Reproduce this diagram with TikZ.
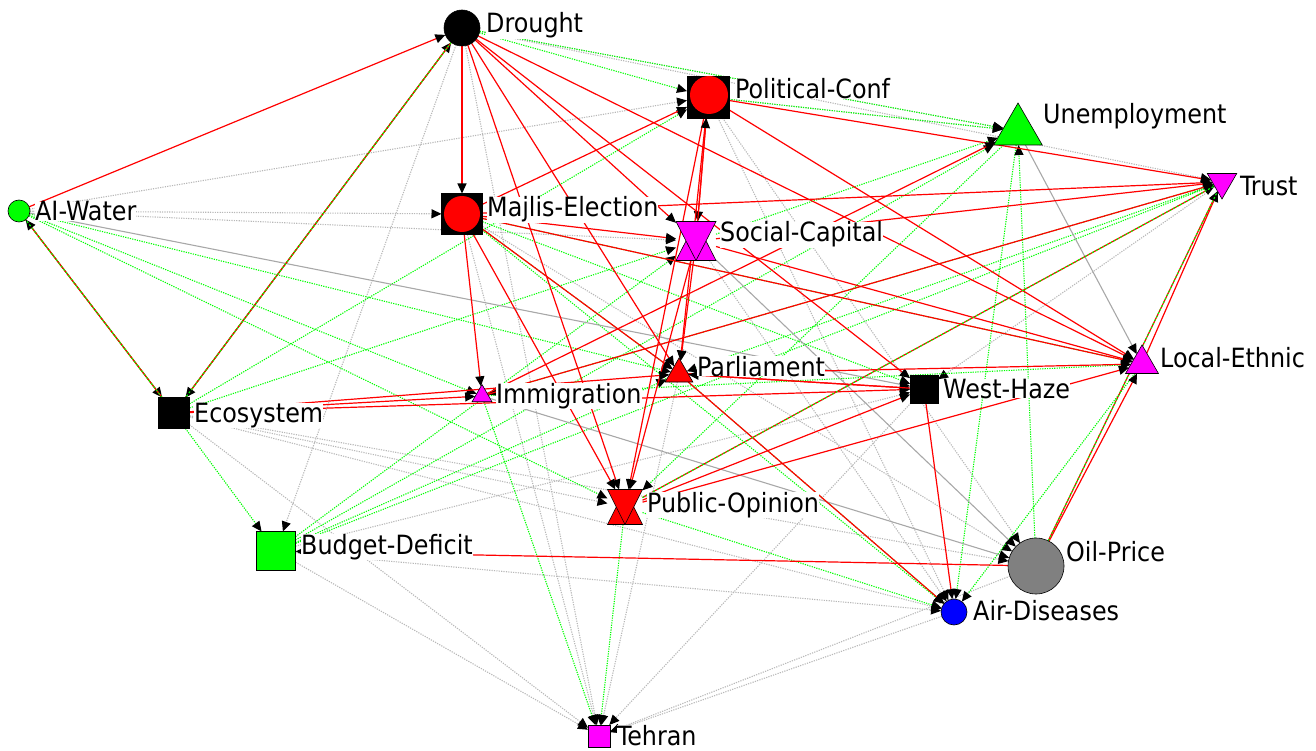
\documentclass[tikz,border=0pt]{standalone}
\usepackage{fontspec}
\setmainfont{DejaVu Sans Condensed}
\usetikzlibrary{arrows.meta,shapes.geometric}
\pgfdeclarelayer{bg}
\pgfsetlayers{bg,main}
\definecolor{gR}{HTML}{FF0000}
\definecolor{gG}{HTML}{00FF00}
\definecolor{gM}{HTML}{FF00FF}
\definecolor{gD}{HTML}{B8B8B8}
\definecolor{gS}{HTML}{A8A8A8}
\definecolor{gO}{HTML}{808080}
\definecolor{gB}{HTML}{0000FF}
\begin{document}
\begin{tikzpicture}[x=1pt,y=-1pt,
  tipA/.tip={Triangle[length=10pt,width=9pt,color=black]},
  redE/.style={gR,line width=1.2pt,-tipA},
  grnE/.style={gG,line width=1.1pt,dash pattern=on 1.2pt off 1.2pt,-tipA},
  gryE/.style={gD,line width=1.1pt,dash pattern=on 1.2pt off 1.2pt,-tipA},
  grsE/.style={gS,line width=1.1pt,-tipA},
  olvE/.style={gR,line width=1.2pt,-tipA},
  olvG/.style={gG,line width=1.1pt,dash pattern=on 2pt off 2pt},
  circN/.style={circle,draw=black,line width=0.6pt,inner sep=0pt,outer sep=0pt},
  sqN/.style={rectangle,draw=black,line width=0.6pt,inner sep=0pt,outer sep=0pt},
  upN/.style={regular polygon,regular polygon sides=3,draw=black,line width=0.6pt,inner sep=0pt,outer sep=0pt},
  dnN/.style={regular polygon,regular polygon sides=3,shape border rotate=180,draw=black,line width=0.6pt,inner sep=0pt,outer sep=0pt},
  hgN/.style={rectangle,inner sep=0pt,outer sep=0pt},
  lab/.style={anchor=base west,inner sep=0pt,fill=white,font=\fontsize{26.5}{30}\selectfont}
]
\useasboundingbox (0,0) rectangle (1316,751);
% nodes
\node[circN,fill=black,minimum size=36pt] (dro) at (462,28) {};
\node[sqN,fill=black,minimum size=42pt] (pol) at (708,97) {};
\fill[gR] (pol.center) ++(1,-2) circle (19pt);
\node[upN,fill=gG,minimum size=56pt] (une) at (1018,131) {};
\node[dnN,fill=gM,minimum size=34pt] (tru) at (1222,182) {};
\node[circN,fill=gG,minimum size=22pt] (aiw) at (19,211) {};
\node[sqN,fill=black,minimum size=41pt] (maj) at (462,214) {};
\fill[gR] (maj.center) circle (18pt);
\node[hgN,minimum width=40pt,minimum height=39pt] (soc) at (696,241) {};
\filldraw[fill=gM,draw=black,line width=0.6pt] (676,260.5) -- (716,260.5) -- (696,221.5) -- cycle;
\filldraw[fill=gM,draw=black,line width=0.6pt] (676,221.5) -- (716,221.5) -- (696,260.5) -- cycle;
\node[upN,fill=gM,minimum size=38pt] (loc) at (1142,364) {};
\node[upN,fill=gR,minimum size=32pt] (par) at (679,374) {};
\node[upN,fill=gM,minimum size=23pt] (imm) at (482,396) {};
\node[sqN,fill=black,minimum size=28pt] (wes) at (924,389) {};
\node[sqN,fill=black,minimum size=31pt] (eco) at (174,413) {};
\node[hgN,minimum width=35pt,minimum height=35pt] (pub) at (625,507) {};
\filldraw[fill=gR,draw=black,line width=0.6pt] (607.5,524.5) -- (642.5,524.5) -- (625,489.5) -- cycle;
\filldraw[fill=gR,draw=black,line width=0.6pt] (607.5,489.5) -- (642.5,489.5) -- (625,524.5) -- cycle;
\node[sqN,fill=gG,minimum size=39pt] (bud) at (276,551) {};
\node[circN,fill=gO,minimum size=56pt] (oil) at (1036,566) {};
\node[circN,fill=gB,minimum size=26pt] (air) at (954,612) {};
\node[sqN,fill=gM,minimum size=22pt] (teh) at (599,736) {};
% labels
\node[lab] (droL) at (486,33) {Drought};
\node[lab] (polL) at (735,99) {Political-Conf};
\node[lab] (uneL) at (1043,124) {Unemployment};
\node[lab] (truL) at (1240,196) {Trust};
\node[lab] (aiwL) at (35,221) {AI-Water};
\node[lab] (majL) at (487,217) {Majlis-Election};
\node[lab] (socL) at (720,242) {Social-Capital};
\node[lab] (locL) at (1160,367) {Local-Ethnic};
\node[lab] (parL) at (697,376) {Parliament};
\node[lab] (immL) at (496,403) {Immigration};
\node[lab] (wesL) at (943,398) {West-Haze};
\node[lab] (ecoL) at (194,422) {Ecosystem};
\node[lab] (pubL) at (647,512) {Public-Opinion};
\node[lab] (budL) at (301,554) {Budget-Deficit};
\node[lab] (oilL) at (1066,561) {Oil-Price};
\node[lab] (airL) at (973,620) {Air-Diseases};
\node[lab] (tehL) at (617,745) {Tehran};
% edges
\begin{pgfonlayer}{bg}
\foreach \a/\b in {aiw/pol,aiw/maj,aiw/soc,dro/tru,dro/une,dro/bud,bud/teh,eco/teh,air/teh,oil/teh,wes/teh,eco/air,eco/pub,eco/oil,bud/air,maj/teh,maj/oil,pol/une,pol/air,pol/oil,soc/air,tru/wes,dro/teh,par/teh,bud/wes}
  \draw[gryE] (\a) -- (\b);
\foreach \a/\b in {dro/pol,dro/une,aiw/imm,aiw/par,aiw/pub,eco/bud,eco/pol,eco/soc,bud/une,bud/tru,bud/soc,bud/par,maj/par,maj/wes,maj/air,pub/teh,imm/teh,pub/air,une/air,une/pub,tru/par,tru/imm,loc/air,soc/une,pol/une,oil/une,imm/loc,par/air,maj/loc}
  \draw[grnE] (\a) -- (\b);
\foreach \a/\b in {aiw/wes,une/loc,imm/oil,soc/oil}
  \draw[grsE] (\a) -- (\b);
\foreach \a/\b in {aiw/dro,dro/maj,dro/soc,dro/par,dro/pub,dro/loc,dro/wes,maj/pol,maj/soc,maj/loc,maj/imm,maj/pub,maj/par,maj/tru,pol/soc,pol/tru,pol/loc,pol/pub,pol/par,soc/tru,soc/loc,soc/pub,soc/pol,soc/par,imm/une,imm/tru,eco/imm,eco/par,eco/wes,par/loc,par/wes,par/air,pub/wes,pub/loc,oil/bud,oil/loc,wes/air,loc/tru,wes/par}
  \draw[redE] (\a) -- (\b);
\foreach \a/\b in {aiw/eco,eco/aiw,eco/dro,dro/eco,pub/tru,oil/tru}{
  \draw[olvE] (\a) -- (\b);
  \draw[olvG] (\a) -- (\b);}
\end{pgfonlayer}
\end{tikzpicture}
\end{document}
